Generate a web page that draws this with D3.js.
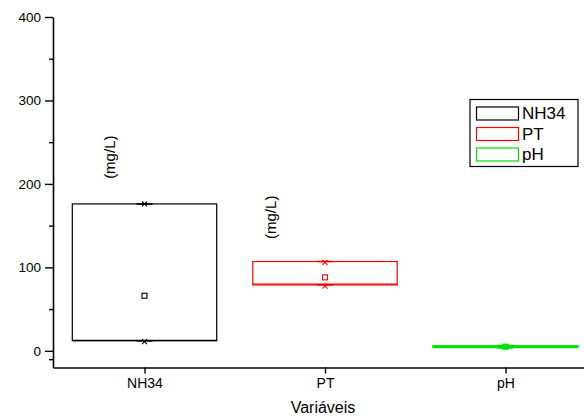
<!DOCTYPE html>
<html><head><meta charset="utf-8">
<script src="https://cdn.jsdelivr.net/npm/d3@7"></script>
<style>body{margin:0;background:#fff}svg{display:block}text{font-family:"Liberation Sans",Arial,sans-serif}</style>
</head><body><svg id="c" width="584" height="417"></svg>
<script>
const categories = ["NH34", "PT", "pH"];
const q1Values = [12, 79, 4.3];
const medianValues = [12.5, 80, 5];
const q3Values = [176, 107, 5.6];
const meanValues = [66, 88, 5];
const minValues = [11, 77.5, 5];
const maxValues = [176, 106, 5];
const colors = ["#000000", "#ff0000", "#00e000"];
const yTicks = [0, 100, 200, 300, 400];
const yMinorTicks = [-10, 50, 150, 250, 350];
const unitLabels = ["(mg/L)", "(mg/L)", ""];
const unitLabelValues = [232, 160, null];

const svg = d3.select("#c");
const y = d3.scaleLinear().domain([-20, 400]).range([367.5, 17]);
const x = d3.scaleLinear().domain([1, 3]).range([144.5, 505.5]);
const xAxisScale = x.copy().domain([x.invert(53), x.invert(584)]).range([53, 584]);
const boxW = 0.8;

const data = categories.map((c, i) => ({
  c, i, q1: q1Values[i], med: medianValues[i], q3: q3Values[i],
  mean: meanValues[i], min: minValues[i], max: maxValues[i], col: colors[i]
}));

// Boxes
const g = svg.append("g");
data.forEach(d => {
  const cx = x(d.i + 1);
  const x0 = x(d.i + 1 - boxW / 2), x1 = x(d.i + 1 + boxW / 2);
  const sw = d.c === "pH" ? 2 : 1.2;
  g.append("rect").attr("x", x0).attr("y", y(d.q3)).attr("width", x1 - x0)
    .attr("height", Math.max(0, y(d.q1) - y(d.q3)))
    .attr("fill", "none").attr("stroke", d.col).attr("stroke-width", sw);
  g.append("line").attr("x1", x0).attr("x2", x1).attr("y1", y(d.med)).attr("y2", y(d.med))
    .attr("stroke", d.col).attr("stroke-width", sw);
  // whisker caps
  [d.q1, d.q3].forEach(v => {
    g.append("line").attr("x1", cx - 8).attr("x2", cx + 8).attr("y1", y(v)).attr("y2", y(v))
      .attr("stroke", d.col).attr("stroke-width", d.c === "pH" ? 3 : 1.6);
  });
  // min/max cross markers
  [d.min, d.max].forEach(v => {
    const yy = y(v), s = 2.5;
    g.append("path").attr("d", `M${cx - s},${yy - s}L${cx + s},${yy + s}M${cx - s},${yy + s}L${cx + s},${yy - s}`)
      .attr("stroke", d.col).attr("stroke-width", 1.1).attr("fill", "none");
  });
  // mean square
  const ms = d.c === "pH" ? 5 : 5;
  g.append("rect").attr("x", cx - ms / 2).attr("y", y(d.mean) - ms / 2).attr("width", ms).attr("height", ms)
    .attr("fill", d.c === "pH" ? d.col : "#fff").attr("stroke", d.col).attr("stroke-width", 1.1);
  if (unitLabels[d.i]) {
    const lx = x(d.i + 1) - (d.i === 0 ? 35 : 55);
    svg.append("text").attr("transform", `translate(${lx},${y(unitLabelValues[d.i])}) rotate(-90)`)
      .attr("text-anchor", "middle").attr("dominant-baseline", "central")
      .attr("font-size", 15).text(unitLabels[d.i]);
  }
});

// Y axis
const yAxis = svg.append("g").attr("transform", "translate(53,0)")
  .call(d3.axisLeft(y).tickValues(yTicks).tickSize(8).tickPadding(4).tickSizeOuter(0));
yAxis.selectAll("text").attr("font-size", 13.5).attr("fill", "#000").attr("font-family", "Liberation Sans, Arial, sans-serif");
yAxis.select(".domain").attr("stroke-width", 1.6);
yAxis.selectAll(".tick line").attr("stroke-width", 1.4);
svg.append("g").attr("transform", "translate(53,0)")
  .call(d3.axisLeft(y).tickValues(yMinorTicks.filter(v => v > -20)).tickSize(4).tickFormat("").tickSizeOuter(0))
  .call(s => s.select(".domain").remove())
  .selectAll(".tick line").attr("stroke-width", 1.4);

// X axis
const xAxis = svg.append("g").attr("transform", "translate(0,367.5)")
  .call(d3.axisBottom(xAxisScale).tickValues([1, 2, 3]).tickFormat(v => categories[v - 1]).tickSize(6).tickPadding(5).tickSizeOuter(0));
xAxis.selectAll("text").attr("font-size", 14).attr("fill", "#000").attr("font-family", "Liberation Sans, Arial, sans-serif");
xAxis.select(".domain").attr("stroke-width", 1.6);
xAxis.selectAll(".tick line").attr("stroke-width", 1.4);

svg.append("text").attr("x", 323).attr("y", 413).attr("text-anchor", "middle")
  .attr("font-size", 16).text("Variáveis");

// Legend
const leg = svg.append("g");
leg.append("rect").attr("x", 470).attr("y", 99.5).attr("width", 108).attr("height", 67)
  .attr("fill", "#fff").attr("stroke", "#000").attr("stroke-width", 1.2);
categories.forEach((c, i) => {
  const cy = 113.5 + i * 20.5;
  leg.append("rect").attr("x", 476.5).attr("y", cy - 6.5).attr("width", 42).attr("height", 13)
    .attr("fill", "none").attr("stroke", colors[i]).attr("stroke-width", 1.2);
  leg.append("text").attr("x", 522).attr("y", cy).attr("dominant-baseline", "central")
    .attr("font-size", 17).text(c);
});
</script></body></html>
